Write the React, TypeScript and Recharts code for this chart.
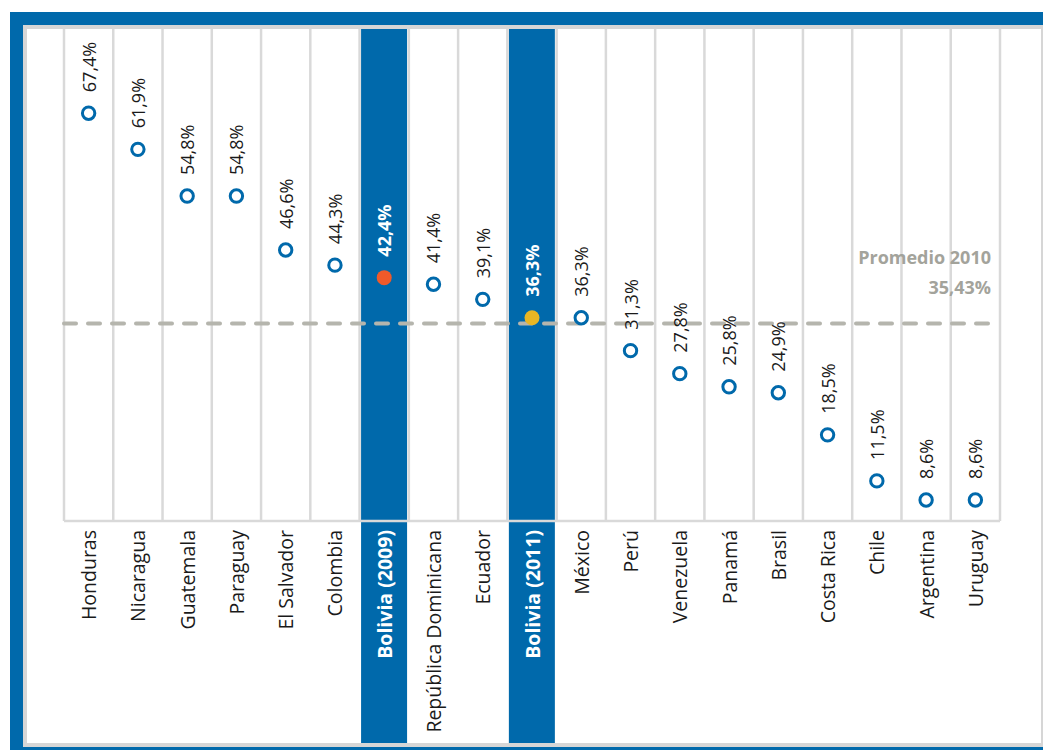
import { Bar, ComposedChart, Line, ReferenceLine, XAxis, YAxis } from "recharts";

const categories = ["Honduras", "Nicaragua", "Guatemala", "Paraguay", "El Salvador", "Colombia", "Bolivia (2009)", "República Dominicana", "Ecuador", "Bolivia (2011)", "México", "Perú", "Venezuela", "Panamá", "Brasil", "Costa Rica", "Chile", "Argentina", "Uruguay"];
const values = [67.4, 61.9, 54.8, 54.8, 46.6, 44.3, 42.4, 41.4, 39.1, 36.3, 36.3, 31.3, 27.8, 25.8, 24.9, 18.5, 11.5, 8.6, 8.6];
const highlightFill: Record<string, string> = { "Bolivia (2009)": "#ef5a2a", "Bolivia (2011)": "#e8b624" };
const average = 35.43;
const averageTitle = "Promedio 2010";
const yDomain: [number, number] = [5.4, 80.2];

const BLUE = "#0069ab";
const GRID = "#d9d9d9";
const AVG = "#b5b5ad";
const FONT = "'Open Sans', 'Noto Sans', sans-serif";
const CHART_W = 1014;
const CHART_H = 714;
const AXIS_H = 222;

const data = categories.map((name, i) => ({ name, value: values[i], band: highlightFill[name] ? yDomain[1] : null }));
const fmt = (v: number, digits = 1) => `${v.toFixed(digits).replace(".", ",")}%`;

function HighlightShape(props: any) {
  const { x, y, width } = props;
  if (x == null || y == null) return null;
  return <rect x={x + 1.5} y={y} width={width - 3} height={CHART_H - y} fill={BLUE} />;
}

function renderDot(props: any) {
  const { cx, cy, index } = props;
  const fill = highlightFill[categories[index]];
  if (fill) return <circle key={`d${index}`} cx={cx} cy={cy} r={7.5} fill={fill} stroke="none" />;
  return <circle key={`d${index}`} cx={cx} cy={cy} r={6.2} fill="#fff" stroke={BLUE} strokeWidth={3} />;
}

function renderValueLabel(props: any) {
  const { x, y, value, index } = props;
  const hl = !!highlightFill[categories[index]];
  const ty = y - 21;
  return (
    <text key={`l${index}`} x={x} y={ty} transform={`rotate(-90, ${x}, ${ty})`} textAnchor="start" dominantBaseline="central" fontFamily={FONT} fontSize={18} fontWeight={hl ? 700 : 400} fill={hl ? "#fff" : "#1a1a1a"}>
      {fmt(value)}
    </text>
  );
}

function renderTick(props: any) {
  const { x, y, payload } = props;
  const hl = !!highlightFill[payload.value];
  return (
    <text x={x} y={y} transform={`rotate(-90, ${x}, ${y})`} textAnchor="end" dominantBaseline="central" fontFamily={FONT} fontSize={19.5} fontWeight={hl ? 700 : 400} fill={hl ? "#fff" : "#1a1a1a"}>
      {payload.value}
    </text>
  );
}

function AverageLabel(props: any) {
  const { viewBox } = props;
  if (!viewBox) return null;
  const right = viewBox.x + viewBox.width - 9;
  return (
    <g fontFamily={FONT} fontWeight={700} fill="#a3a39b" textAnchor="end">
      <text x={right} y={viewBox.y - 59} fontSize={18}>{averageTitle}</text>
      <text x={right} y={viewBox.y - 29} fontSize={18}>{fmt(average, 2)}</text>
    </g>
  );
}

export default function App() {
  return (
    <div style={{ position: "absolute", left: 0, top: 0, width: 1043, height: 750, background: "#fff", overflow: "hidden" }}>
      <div style={{ position: "absolute", left: 10, top: 12, width: 1033, height: 738, background: BLUE }} />
      <div style={{ position: "absolute", left: 23, top: 25, width: 1020, height: 722, background: "#d6d6d6" }} />
      <div style={{ position: "absolute", left: 27, top: 29, width: CHART_W, height: CHART_H, background: "#fff" }}>
        <ComposedChart width={CHART_W} height={CHART_H} data={data} margin={{ top: 0, right: 41, left: 37, bottom: 0 }} barCategoryGap={0}>
          {categories.map((c) => (
            <ReferenceLine key={`g${c}`} x={c} position="start" stroke={GRID} strokeWidth={2.5} />
          ))}
          <ReferenceLine x={categories[categories.length - 1]} position="end" stroke={GRID} strokeWidth={2.5} />
          <ReferenceLine y={yDomain[0]} stroke={GRID} strokeWidth={2.5} />
          <XAxis dataKey="name" interval={0} height={AXIS_H} tickLine={false} tickSize={0} tickMargin={9} axisLine={false} tick={renderTick} />
          <YAxis hide domain={yDomain} />
          <Bar dataKey="band" shape={<HighlightShape />} isAnimationActive={false} />
          <Line dataKey="value" stroke="none" dot={renderDot} activeDot={false} label={renderValueLabel} isAnimationActive={false} />
          <ReferenceLine y={average} stroke={AVG} strokeWidth={4} strokeDasharray="12 12" strokeLinecap="round" label={<AverageLabel />} />
        </ComposedChart>
      </div>
    </div>
  );
}
